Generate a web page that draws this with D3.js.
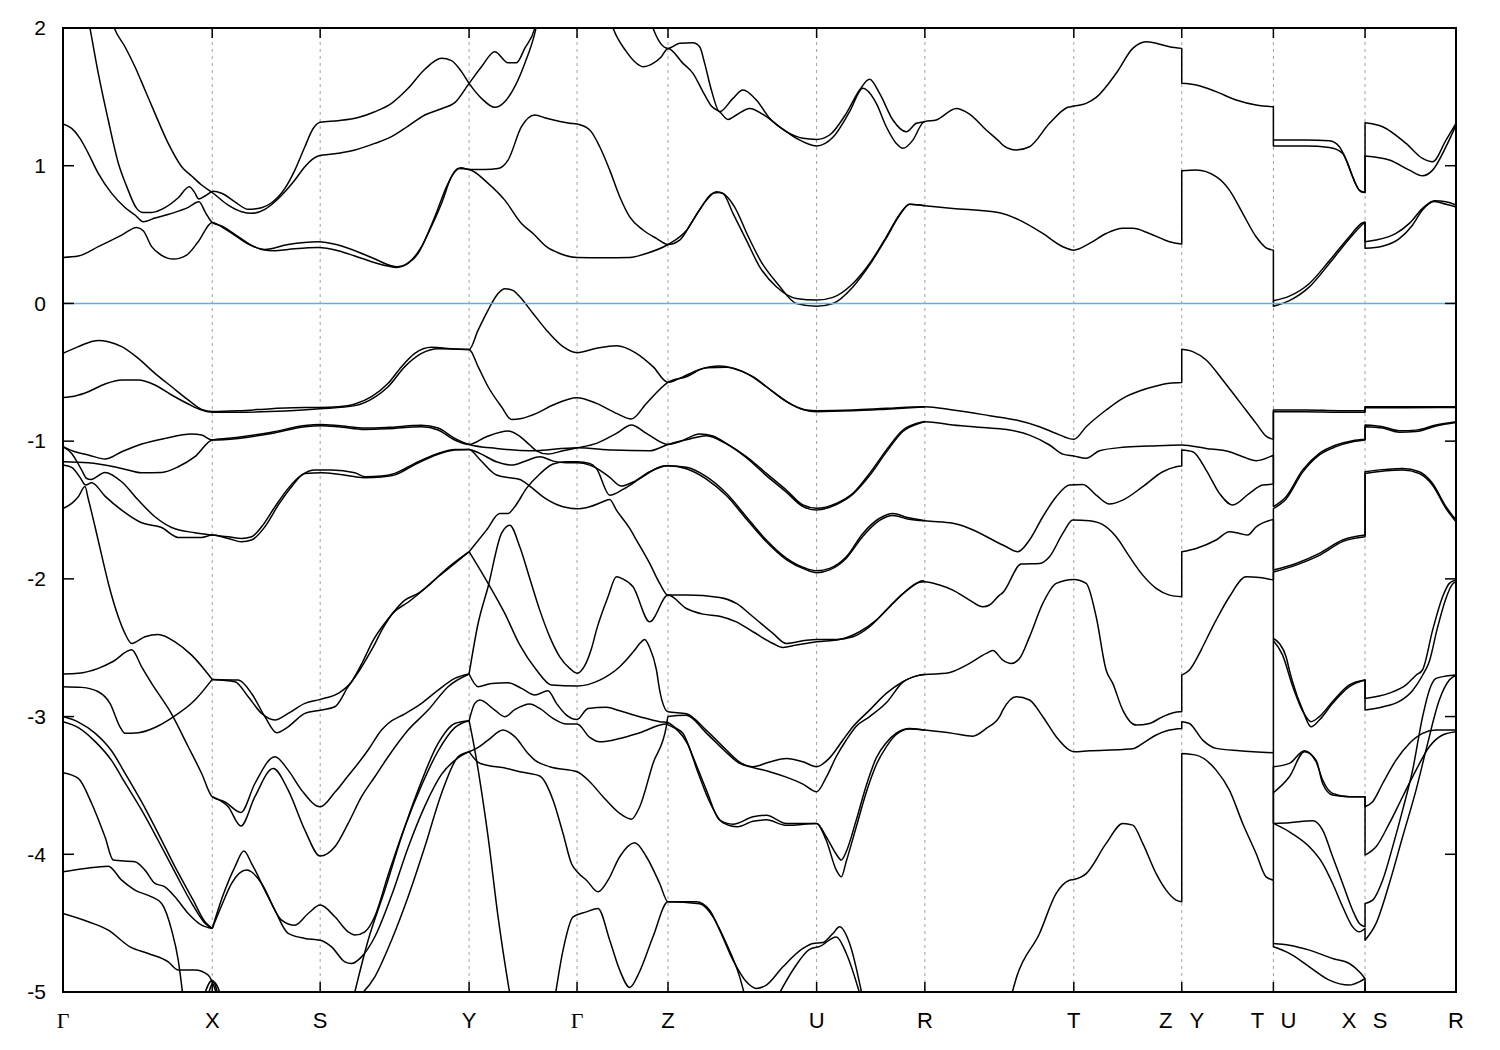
<!DOCTYPE html>
<html><head><meta charset="utf-8">
<script src="https://cdn.jsdelivr.net/npm/d3@7"></script>
<style>body{margin:0;background:#fff}</style>
</head><body><div id="chart"></div>
<script>
// ---- k-path ticks and labels ----
const kTicks = [0, 1.493, 2.573, 4.063, 5.143, 6.053, 7.54, 8.623, 10.113, 11.193, 12.11, 13.027, 13.937];
const kLabels = ["Γ","X","S","Y","Γ","Z","U","R","T","Z|Y","T|U","X|S","R"];
const eTicks = [2, 1, 0, -1, -2, -3, -4, -5];
const fermiLevel = 0;

// ---- bands: [k, E(eV)] ----
const bandP = [[0.15,2.5],[0.27,2.0],[0.353,1.67],[0.453,1.33],[0.553,1.02],[0.637,0.85],[0.737,0.69],[0.803,0.66],[0.887,0.66],[1.02,0.695],[1.153,0.767],[1.263,0.847],[1.313,0.81],[1.36,0.758],[1.42,0.78],[1.503,0.814],[1.587,0.80],[1.72,0.738],[1.853,0.683],[1.987,0.695],[2.087,0.731],[2.22,0.835],[2.32,0.968],[2.42,1.138],[2.503,1.27],[2.573,1.315],[2.753,1.327],[2.953,1.35],[3.12,1.392],[3.287,1.453],[3.453,1.562],[3.62,1.70],[3.787,1.78],[3.887,1.763],[3.987,1.683],[4.063,1.598],[4.187,1.489],[4.32,1.424],[4.42,1.465],[4.52,1.574],[4.62,1.743],[4.72,1.961],[4.8,2.25]];
const bandQ = [[0.4,2.3],[0.513,2.0],[0.62,1.864],[0.72,1.719],[0.82,1.55],[0.92,1.38],[1.053,1.162],[1.187,0.993],[1.287,0.925],[1.387,0.86],[1.503,0.80],[1.653,0.714],[1.787,0.666],[1.887,0.654],[2.02,0.683],[2.12,0.738],[2.22,0.811],[2.32,0.896],[2.42,0.993],[2.553,1.07],[2.753,1.09],[2.92,1.114],[3.12,1.162],[3.287,1.211],[3.453,1.288],[3.62,1.368],[3.787,1.414],[3.92,1.458],[4.063,1.598],[4.187,1.719],[4.32,1.828],[4.453,1.748],[4.537,1.748],[4.62,1.852],[4.72,1.997],[4.78,2.2]];
const bandR = [[0,1.303],[0.087,1.271],[0.17,1.199],[0.253,1.09],[0.353,0.944],[0.487,0.799],[0.62,0.697],[0.72,0.642],[0.803,0.593],[0.92,0.62],[1.087,0.654],[1.253,0.697],[1.36,0.738],[1.427,0.658],[1.493,0.588],[1.587,0.562],[1.72,0.501],[1.853,0.436],[1.987,0.392],[2.12,0.383],[2.253,0.392],[2.553,0.407],[2.753,0.383],[2.92,0.344],[3.087,0.303],[3.253,0.271],[3.337,0.261],[3.453,0.29],[3.553,0.363],[3.653,0.508],[3.787,0.726],[3.887,0.92],[3.987,0.985],[4.063,0.973],[4.22,0.973],[4.353,0.98],[4.453,1.041],[4.587,1.283],[4.72,1.368],[4.837,1.344],[5.07,1.308],[5.143,1.303],[5.27,1.259],[5.37,1.138],[5.47,0.968],[5.57,0.775],[5.67,0.629],[5.803,0.533],[5.937,0.472],[6.053,0.428],[6.17,0.46],[6.303,0.605],[6.437,0.75],[6.537,0.811],[6.603,0.799],[6.703,0.654],[6.837,0.46],[6.97,0.266],[7.137,0.121],[7.337,0.036],[7.54,0.024],[7.703,0.044],[7.903,0.145],[8.07,0.29],[8.237,0.484],[8.37,0.646],[8.47,0.721],[8.623,0.709],[8.903,0.69],[9.37,0.658],[9.57,0.605],[9.803,0.508],[10.003,0.412],[10.113,0.387],[10.27,0.436],[10.437,0.508],[10.603,0.545],[10.703,0.545],[10.87,0.508],[11.07,0.448],[11.193,0.431],[11.193,0.964],[11.337,0.968],[11.537,0.92],[11.67,0.823],[11.803,0.654],[11.937,0.484],[12.037,0.404],[12.11,0.387],[12.11,0.02],[12.27,0.053],[12.47,0.145],[12.67,0.31],[12.87,0.484],[13.003,0.586],[13.027,0.59],[13.027,0.448],[13.137,0.46],[13.337,0.508],[13.47,0.581],[13.603,0.69],[13.72,0.746],[13.837,0.738],[13.937,0.714]];
const bandS1 = [[0,0.334],[0.153,0.344],[0.353,0.412],[0.587,0.496],[0.737,0.552],[0.803,0.528],[0.887,0.412],[0.987,0.349],[1.103,0.322],[1.237,0.351],[1.353,0.448],[1.493,0.588],[1.587,0.557],[1.72,0.494],[1.853,0.431],[2.02,0.392],[2.253,0.428],[2.553,0.448],[2.753,0.424],[3.087,0.334],[3.337,0.266],[3.453,0.295],[3.587,0.412],[3.72,0.629],[3.853,0.872],[3.953,0.98],[4.063,0.973],[4.253,0.872],[4.42,0.75],[4.587,0.581],[4.703,0.508],[4.837,0.412],[4.97,0.363],[5.143,0.334],[5.403,0.332],[5.67,0.334],[5.837,0.363],[6.053,0.428],[6.237,0.53],[6.37,0.68],[6.503,0.80],[6.57,0.805],[6.72,0.70],[6.853,0.49],[6.987,0.30],[7.153,0.14],[7.337,0.0],[7.54,-0.02],[7.703,0.0],[7.903,0.12],[8.07,0.28],[8.237,0.475],[8.37,0.64],[8.47,0.72],[8.623,0.709]];
const bandS2 = [[12.11,0.02],[12.11,-0.02],[12.27,0.02],[12.47,0.12],[12.67,0.29],[12.87,0.47],[13.003,0.575],[13.027,0.59],[13.027,0.40],[13.2,0.415],[13.37,0.47],[13.503,0.57],[13.603,0.68],[13.72,0.74],[13.837,0.72],[13.937,0.70]];
const bandT1 = [[5.42,2.2],[5.503,2.0],[5.637,1.828],[5.72,1.755],[5.803,1.719],[5.903,1.743],[5.987,1.792],[6.053,1.852],[6.203,1.743],[6.303,1.671],[6.403,1.537],[6.487,1.433],[6.57,1.392],[6.653,1.336],[6.737,1.368],[6.87,1.416],[7.003,1.373],[7.17,1.283],[7.337,1.199],[7.54,1.143],[7.703,1.206],[7.87,1.392],[8.003,1.562],[8.137,1.453],[8.237,1.283],[8.337,1.162],[8.403,1.126],[8.503,1.186],[8.603,1.312],[8.623,1.32],[8.737,1.332],[8.937,1.416],[9.07,1.375],[9.237,1.259],[9.37,1.174],[9.403,1.15],[9.537,1.114],[9.67,1.138],[9.87,1.308],[10.053,1.424],[10.113,1.433],[10.237,1.453],[10.337,1.496],[10.537,1.671],[10.703,1.852],[10.837,1.901],[10.937,1.889],[11.07,1.864],[11.193,1.852],[11.193,1.598],[11.337,1.586],[11.537,1.538],[11.737,1.477],[11.937,1.441],[12.11,1.428],[12.11,1.186],[12.437,1.186],[12.67,1.181],[12.77,1.138],[12.853,1.017],[12.937,0.86],[12.987,0.811],[13.027,0.806],[13.027,1.312],[13.203,1.283],[13.437,1.162],[13.603,1.053],[13.703,1.029],[13.837,1.186],[13.937,1.308]];
const bandT2 = [[5.85,2.15],[5.903,2.0],[6.053,1.852],[6.17,1.889],[6.303,1.893],[6.37,1.864],[6.42,1.743],[6.487,1.55],[6.57,1.392],[6.703,1.489],[6.803,1.55],[6.937,1.477],[7.07,1.344],[7.237,1.247],[7.403,1.199],[7.54,1.191],[7.67,1.223],[7.837,1.38],[7.97,1.55],[8.07,1.627],[8.17,1.525],[8.303,1.332],[8.437,1.247],[8.537,1.308],[8.623,1.32]];
const bandT3 = [[12.11,1.186],[12.11,1.143],[12.437,1.143],[12.67,1.133],[12.803,1.09],[12.903,0.92],[12.97,0.823],[13.027,0.806],[13.027,1.07],[13.27,1.041],[13.47,0.968],[13.603,0.927],[13.703,0.968],[13.837,1.138],[13.937,1.295]];
const bandV1 = [[0,-0.363],[0.153,-0.314],[0.253,-0.285],[0.353,-0.27],[0.453,-0.278],[0.587,-0.314],[0.753,-0.399],[0.92,-0.508],[1.087,-0.605],[1.253,-0.701],[1.387,-0.769],[1.493,-0.784],[1.753,-0.779],[2.087,-0.764],[2.42,-0.755],[2.573,-0.755],[2.753,-0.75],[2.92,-0.73],[3.087,-0.677],[3.253,-0.58],[3.387,-0.459],[3.52,-0.363],[3.687,-0.319],[3.92,-0.331],[4.063,-0.334],[4.153,-0.194],[4.253,-0.048],[4.353,0.072],[4.42,0.107],[4.5,0.095],[4.57,0.048],[4.703,-0.073],[4.837,-0.194],[5.003,-0.314],[5.143,-0.358],[5.337,-0.326],[5.537,-0.307],[5.737,-0.362],[5.903,-0.459],[6.053,-0.573],[6.17,-0.544],[6.37,-0.479],[6.57,-0.454],[6.703,-0.471],[6.903,-0.532],[7.103,-0.641],[7.303,-0.738],[7.437,-0.774],[7.54,-0.779],[7.903,-0.774],[8.237,-0.762],[8.623,-0.75],[8.903,-0.774],[9.27,-0.815],[9.537,-0.847],[9.77,-0.895],[9.937,-0.944],[10.113,-0.987],[10.237,-0.895],[10.437,-0.774],[10.603,-0.689],[10.77,-0.636],[10.937,-0.6],[11.07,-0.58],[11.193,-0.575],[11.193,-0.333],[11.303,-0.35],[11.437,-0.411],[11.603,-0.556],[11.77,-0.713],[11.937,-0.871],[12.037,-0.963],[12.11,-0.987],[12.11,-0.774],[12.437,-0.774],[12.77,-0.779],[13.027,-0.779],[13.027,-0.755],[13.437,-0.757],[13.937,-0.755]];
const bandV2 = [[0,-0.684],[0.12,-0.672],[0.253,-0.641],[0.42,-0.585],[0.587,-0.556],[0.753,-0.556],[0.92,-0.592],[1.087,-0.665],[1.253,-0.73],[1.387,-0.774],[1.493,-0.79],[1.753,-0.79],[2.573,-0.765],[2.92,-0.742],[3.12,-0.68],[3.253,-0.605],[3.42,-0.459],[3.587,-0.363],[3.753,-0.329],[4.063,-0.334],[4.153,-0.459],[4.253,-0.605],[4.387,-0.75],[4.487,-0.842],[4.587,-0.835],[4.737,-0.798],[4.903,-0.738],[5.143,-0.684],[5.337,-0.726],[5.537,-0.798],[5.687,-0.839],[5.837,-0.726],[6.053,-0.573],[6.237,-0.532],[6.437,-0.467],[6.637,-0.464],[6.837,-0.508],[7.037,-0.605],[7.237,-0.713],[7.403,-0.77],[7.54,-0.786],[7.903,-0.78],[8.237,-0.768],[8.623,-0.752]];
const bandW1 = [[0,-1.04],[0.12,-1.077],[0.253,-1.10],[0.42,-1.13],[0.587,-1.077],[0.787,-1.021],[1.02,-0.98],[1.287,-0.949],[1.387,-0.956],[1.493,-0.992],[1.753,-0.98],[2.087,-0.944],[2.42,-0.895],[2.587,-0.888],[2.753,-0.895],[3.02,-0.915],[3.253,-0.91],[3.587,-0.895],[3.753,-0.919],[3.92,-0.992],[4.063,-1.024],[4.237,-0.968],[4.453,-0.927],[4.553,-0.956],[4.67,-1.028],[4.737,-1.07],[4.853,-1.094],[5.003,-1.07],[5.147,-1.048],[5.337,-1.016],[5.537,-0.944],[5.687,-0.883],[5.837,-0.944],[6.053,-1.024],[6.17,-1.004],[6.37,-0.948],[6.503,-0.963],[6.637,-1.016],[6.837,-1.113],[7.037,-1.234],[7.237,-1.355],[7.403,-1.464],[7.54,-1.488],[7.737,-1.452],[7.903,-1.379],[8.07,-1.234],[8.237,-1.065],[8.403,-0.919],[8.537,-0.871],[8.623,-0.859],[8.903,-0.883],[9.27,-0.905],[9.47,-0.919],[9.67,-0.956],[9.87,-1.028],[10.003,-1.094],[10.113,-1.108],[10.237,-1.125],[10.37,-1.07],[10.603,-1.045],[10.87,-1.036],[11.193,-1.028],[11.437,-1.053],[11.67,-1.077],[11.803,-1.113],[11.937,-1.142],[12.11,-1.101],[12.11,-1.476],[12.237,-1.404],[12.403,-1.21],[12.57,-1.089],[12.737,-1.028],[12.903,-0.997],[13.027,-0.987],[13.027,-0.883],[13.203,-0.895],[13.37,-0.924],[13.537,-0.92],[13.737,-0.883],[13.937,-0.859]];
const bandW2 = [[0,-1.15],[0.253,-1.157],[0.587,-1.198],[0.787,-1.23],[0.987,-1.227],[1.153,-1.186],[1.32,-1.113],[1.493,-0.992],[1.753,-0.972],[2.087,-0.935],[2.42,-0.887],[2.573,-0.88],[2.753,-0.887],[3.02,-0.905],[3.253,-0.9],[3.587,-0.885],[3.753,-0.905],[3.92,-0.98],[4.063,-1.024],[4.337,-1.053],[4.67,-1.07],[5.147,-1.048],[5.503,-1.065],[5.87,-1.07],[6.053,-1.024],[6.237,-0.99],[6.437,-0.96],[6.637,-1.02],[6.837,-1.12],[7.037,-1.25],[7.237,-1.37],[7.403,-1.475],[7.54,-1.5],[7.737,-1.46],[7.903,-1.385],[8.07,-1.25],[8.237,-1.08],[8.403,-0.93],[8.57,-0.87],[8.623,-0.859]];
const bandD1 = [[0,-1.04],[0.087,-1.089],[0.187,-1.21],[0.237,-1.271],[0.28,-1.278],[0.42,-1.227],[0.587,-1.295],[0.753,-1.428],[0.92,-1.549],[1.087,-1.627],[1.32,-1.665],[1.493,-1.682],[1.653,-1.694],[1.787,-1.707],[1.887,-1.694],[1.987,-1.622],[2.12,-1.477],[2.253,-1.343],[2.387,-1.247],[2.52,-1.21],[2.687,-1.21],[2.92,-1.23],[3.02,-1.258],[3.187,-1.254],[3.32,-1.234],[3.52,-1.161],[3.753,-1.089],[3.92,-1.06],[4.063,-1.06],[4.17,-1.089],[4.337,-1.15],[4.487,-1.174],[4.637,-1.142],[4.77,-1.113],[4.903,-1.145],[5.037,-1.157],[5.147,-1.157],[5.27,-1.174],[5.37,-1.21],[5.47,-1.263],[5.587,-1.326],[5.703,-1.297],[5.87,-1.222],[6.053,-1.179],[6.237,-1.19],[6.437,-1.258],[6.637,-1.379],[6.837,-1.549],[7.037,-1.718],[7.237,-1.85],[7.437,-1.925],[7.54,-1.941],[7.67,-1.924],[7.837,-1.84],[8.003,-1.67],[8.17,-1.56],[8.303,-1.525],[8.45,-1.555],[8.623,-1.578],[8.903,-1.597],[9.07,-1.634],[9.37,-1.743],[9.437,-1.767],[9.553,-1.803],[9.67,-1.718],[9.803,-1.549],[9.937,-1.404],[10.07,-1.319],[10.203,-1.314],[10.337,-1.392],[10.47,-1.457],[10.603,-1.428],[10.803,-1.331],[11.003,-1.222],[11.137,-1.186],[11.193,-1.181],[11.193,-1.065],[11.303,-1.077],[11.437,-1.21],[11.57,-1.379],[11.703,-1.464],[11.87,-1.379],[12.003,-1.319],[12.11,-1.312],[12.11,-0.786],[12.437,-0.786],[12.77,-0.79],[13.027,-0.79],[13.027,-0.75],[13.937,-0.75]];
const bandD2 = [[0,-1.174],[0.087,-1.191],[0.17,-1.263],[0.227,-1.319],[0.287,-1.302],[0.42,-1.399],[0.587,-1.501],[0.787,-1.593],[0.987,-1.627],[1.153,-1.699],[1.387,-1.699],[1.493,-1.682],[1.653,-1.707],[1.787,-1.731],[1.887,-1.718],[2.02,-1.622],[2.153,-1.465],[2.287,-1.331],[2.42,-1.235],[2.587,-1.23],[2.753,-1.24],[3.02,-1.265],[3.187,-1.26],[3.32,-1.245],[3.52,-1.17],[3.753,-1.095],[3.92,-1.065],[4.063,-1.06],[4.17,-1.133],[4.337,-1.246],[4.47,-1.266],[4.57,-1.278],[4.67,-1.326],[4.803,-1.404],[5.003,-1.476],[5.147,-1.491],[5.27,-1.476],[5.403,-1.44],[5.47,-1.423],[5.537,-1.501],[5.67,-1.634],[5.737,-1.718],[5.87,-1.888],[5.97,-2.033],[6.053,-2.118],[6.237,-2.118],[6.57,-2.135],[6.737,-2.178],[6.903,-2.275],[7.103,-2.396],[7.237,-2.469],[7.437,-2.445],[7.54,-2.44],[7.737,-2.44],[7.903,-2.421],[8.07,-2.348],[8.237,-2.227],[8.403,-2.106],[8.57,-2.025],[8.623,-2.021],[8.77,-2.045],[8.903,-2.082],[9.07,-2.154],[9.203,-2.203],[9.27,-2.19],[9.37,-2.118],[9.403,-2.1],[9.587,-1.893],[9.77,-1.888],[9.87,-1.839],[10.003,-1.67],[10.103,-1.573],[10.27,-1.578],[10.437,-1.622],[10.537,-1.694],[10.67,-1.839],[10.803,-1.973],[10.937,-2.069],[11.07,-2.118],[11.193,-2.13],[11.193,-1.803],[11.337,-1.779],[11.537,-1.718],[11.67,-1.658],[11.77,-1.67],[11.853,-1.682],[11.937,-1.622],[12.11,-1.568],[12.11,-1.936],[12.337,-1.888],[12.57,-1.815],[12.803,-1.718],[13.027,-1.682],[13.027,-1.222],[13.237,-1.205],[13.403,-1.198],[13.57,-1.222],[13.703,-1.307],[13.837,-1.476],[13.937,-1.573]];
const bandK = [[4.063,-1.803],[4.237,-1.646],[4.37,-1.525],[4.453,-1.525],[4.52,-1.476],[4.637,-1.343],[4.77,-1.239],[4.903,-1.166],[5.037,-1.15],[5.147,-1.15],[5.27,-1.162],[5.337,-1.198],[5.47,-1.392],[5.603,-1.35],[5.803,-1.258],[6.003,-1.181],[6.053,-1.179],[6.237,-1.2],[6.437,-1.275],[6.637,-1.395],[6.837,-1.565],[7.037,-1.73],[7.237,-1.86],[7.437,-1.935],[7.54,-1.955],[7.67,-1.935],[7.837,-1.85],[8.003,-1.69],[8.17,-1.575],[8.303,-1.54],[8.45,-1.565],[8.623,-1.578]];
const bandU1 = [[4.063,-2.69],[4.153,-2.324],[4.253,-2.057],[4.387,-1.67],[4.47,-1.61],[4.57,-1.767],[4.67,-1.997],[4.77,-2.227],[4.87,-2.421],[4.97,-2.566],[5.07,-2.65],[5.143,-2.685],[5.22,-2.63],[5.29,-2.5],[5.337,-2.372],[5.453,-2.13],[5.537,-1.985],[5.6,-2.0],[5.703,-2.057],[5.87,-2.312],[6.053,-2.118],[6.237,-2.215],[6.403,-2.256],[6.57,-2.271],[6.737,-2.312],[6.903,-2.384],[7.103,-2.469],[7.203,-2.498],[7.337,-2.481],[7.54,-2.457],[7.77,-2.44],[7.97,-2.384],[8.137,-2.3],[8.303,-2.178],[8.47,-2.069],[8.603,-2.014],[8.623,-2.021]];
const bandX2 = [[0,-1.489],[0.087,-1.452],[0.153,-1.404],[0.22,-1.33],[0.253,-1.42],[0.32,-1.62],[0.4,-1.87],[0.453,-2.03],[0.553,-2.275],[0.62,-2.396],[0.687,-2.469],[0.82,-2.42],[0.953,-2.404],[1.12,-2.457],[1.287,-2.554],[1.42,-2.663],[1.493,-2.73]];
const bandX1 = [[0,-2.691],[0.153,-2.686],[0.353,-2.65],[0.5,-2.6],[0.687,-2.515],[0.787,-2.639],[0.887,-2.759],[1.087,-2.982],[1.253,-3.219],[1.387,-3.413],[1.493,-3.582],[1.62,-3.619],[1.78,-3.696],[1.92,-3.486],[2.12,-3.292],[2.253,-3.389],[2.387,-3.534],[2.573,-3.655],[2.72,-3.55],[2.853,-3.43],[2.92,-3.37],[3.053,-3.243],[3.187,-3.098],[3.253,-3.05],[3.42,-2.98],[3.587,-2.904],[3.753,-2.808],[3.92,-2.723],[4.063,-2.691]];
const bandX3 = [[1.493,-3.582],[1.653,-3.655],[1.78,-3.795],[1.92,-3.582],[2.103,-3.377],[2.253,-3.534],[2.42,-3.824],[2.573,-4.013],[2.72,-3.946],[2.853,-3.776],[2.987,-3.582],[3.12,-3.437],[3.253,-3.292],[3.453,-3.098],[3.653,-2.953],[3.853,-2.783],[4.063,-2.691]];
const bandM3 = [[0,-2.783],[0.187,-2.788],[0.353,-2.82],[0.47,-2.904],[0.57,-3.074],[0.62,-3.122],[0.753,-3.117],[0.92,-3.079],[1.07,-3.018],[1.32,-2.88],[1.493,-2.73]];
const bandG1 = [[1.493,-2.73],[1.72,-2.747],[1.853,-2.856],[1.987,-2.977],[2.12,-3.025],[2.253,-2.977],[2.42,-2.904],[2.573,-2.875],[2.753,-2.832],[2.887,-2.747],[3.0,-2.6],[3.1,-2.45],[3.253,-2.29],[3.42,-2.154],[3.553,-2.106],[3.753,-1.985],[3.92,-1.888],[4.063,-1.803]];
const bandG2 = [[1.493,-2.73],[1.753,-2.735],[1.887,-2.832],[2.02,-3.001],[2.137,-3.117],[2.253,-3.074],[2.42,-2.977],[2.587,-2.953],[2.72,-2.929],[2.853,-2.783],[2.97,-2.66],[3.1,-2.5],[3.2,-2.36],[3.3,-2.25],[3.453,-2.17],[3.653,-2.05],[3.85,-1.92],[4.063,-1.803]];
const bandF1 = [[0,-3.0],[0.153,-3.04],[0.32,-3.12],[0.487,-3.25],[0.62,-3.41],[0.787,-3.62],[0.953,-3.85],[1.12,-4.09],[1.3,-4.33],[1.42,-4.49],[1.493,-4.539]];
const bandF2 = [[0,-3.037],[0.153,-3.08],[0.32,-3.18],[0.487,-3.32],[0.62,-3.48],[0.787,-3.68],[0.953,-3.9],[1.12,-4.13],[1.3,-4.37],[1.42,-4.5],[1.493,-4.539]];
const bandF3 = [[0,-3.408],[0.153,-3.449],[0.287,-3.631],[0.42,-3.873],[0.503,-4.042],[0.72,-4.055],[0.82,-4.115],[0.92,-4.212],[1.02,-4.236],[1.12,-4.309],[1.253,-4.43],[1.387,-4.515],[1.493,-4.539]];
const bandF4 = [[0,-4.127],[0.22,-4.103],[0.453,-4.086],[0.587,-4.188],[0.72,-4.26],[0.887,-4.309],[0.987,-4.357],[1.087,-4.551],[1.153,-4.769],[1.203,-5.05]];
const bandF5 = [[0,-4.43],[0.253,-4.49],[0.453,-4.551],[0.67,-4.672],[0.853,-4.72],[1.053,-4.781],[1.153,-4.841],[1.32,-4.841],[1.453,-4.878],[1.553,-5.05]];
const bandXs1 = [[1.40,-5.05],[1.493,-4.914],[1.56,-5.05]];
const bandXs2 = [[1.44,-5.05],[1.51,-4.93],[1.59,-5.05]];
const bandY1 = [[1.493,-4.539],[1.6,-4.3],[1.72,-4.091],[1.81,-3.977],[1.887,-4.067],[2.053,-4.309],[2.187,-4.478],[2.32,-4.515],[2.453,-4.43],[2.573,-4.369],[2.72,-4.454],[2.853,-4.563],[2.92,-4.587],[3.02,-4.563],[3.12,-4.45],[3.253,-4.15],[3.42,-3.8],[3.587,-3.5],[3.753,-3.25],[3.92,-3.08],[4.063,-3.03]];
const bandY2 = [[1.493,-4.539],[1.6,-4.35],[1.687,-4.212],[1.837,-4.115],[1.987,-4.212],[2.12,-4.406],[2.253,-4.575],[2.42,-4.611],[2.573,-4.624],[2.687,-4.672],[2.82,-4.781],[2.887,-4.793],[2.987,-4.745],[3.12,-4.599],[3.287,-4.3],[3.453,-3.95],[3.62,-3.65],[3.787,-3.42],[3.953,-3.3],[4.063,-3.255]];
const bandY3 = [[2.937,-5.05],[3.12,-4.89],[3.287,-4.624],[3.453,-4.309],[3.62,-3.946],[3.787,-3.558],[3.953,-3.292],[4.063,-3.255]];
const bandY4 = [[2.903,-5.05],[3.053,-4.624],[3.22,-4.26],[3.387,-3.873],[3.553,-3.534],[3.753,-3.195],[3.92,-3.05],[4.063,-3.03]];
const bandZa = [[4.063,-2.691],[4.153,-2.783],[4.287,-2.759],[4.453,-2.754],[4.587,-2.795],[4.72,-2.844],[4.853,-2.812],[4.937,-2.904],[5.037,-2.989],[5.143,-3.021],[5.253,-2.941],[5.437,-2.933],[5.57,-2.958],[5.77,-3.001],[5.97,-3.037],[6.053,-3.045],[6.137,-3.086],[6.203,-3.122],[6.303,-3.292],[6.437,-3.534],[6.57,-3.752],[6.703,-3.781],[6.903,-3.728],[7.037,-3.716],[7.237,-3.776],[7.54,-3.776],[7.637,-3.873],[7.737,-4.0],[7.787,-4.042],[7.837,-3.98],[7.937,-3.75],[8.037,-3.5],[8.137,-3.3],[8.237,-3.19],[8.337,-3.12],[8.47,-3.086],[8.623,-3.098],[8.903,-3.122],[9.103,-3.142],[9.237,-3.086],[9.37,-3.001],[9.403,-2.953],[9.537,-2.856],[9.67,-2.88],[9.803,-3.001],[9.937,-3.146],[10.07,-3.243],[10.113,-3.255],[10.27,-3.248],[10.603,-3.239],[10.703,-3.234],[10.803,-3.195],[10.937,-3.134],[11.07,-3.098],[11.193,-3.086],[11.193,-3.037],[11.27,-3.05],[11.403,-3.171],[11.537,-3.231],[11.77,-3.248],[12.11,-3.263],[12.11,-1.95],[12.337,-1.9],[12.57,-1.83],[12.803,-1.73],[13.027,-1.695],[13.027,-1.235],[13.237,-1.215],[13.403,-1.21],[13.57,-1.235],[13.703,-1.32],[13.837,-1.49],[13.937,-1.585]];
const bandZb = [[4.063,-3.03],[4.12,-2.904],[4.17,-2.88],[4.32,-2.953],[4.42,-3.001],[4.52,-2.95],[4.67,-2.909],[4.77,-2.941],[4.903,-3.013],[5.037,-3.054],[5.143,-3.054],[5.27,-3.151],[5.37,-3.183],[5.57,-3.159],[5.77,-3.118],[6.037,-3.054],[6.053,-3.06],[6.15,-3.1],[6.25,-3.2],[6.35,-3.4],[6.47,-3.62],[6.6,-3.77],[6.75,-3.8],[6.903,-3.76],[7.037,-3.75],[7.237,-3.79],[7.54,-3.776],[7.637,-3.9],[7.737,-4.115],[7.787,-4.164],[7.837,-4.05],[7.937,-3.8],[8.037,-3.55],[8.137,-3.35],[8.237,-3.22],[8.337,-3.13],[8.47,-3.09],[8.623,-3.098]];
const bandZc = [[4.063,-3.255],[4.137,-3.231],[4.253,-3.171],[4.403,-3.098],[4.52,-3.146],[4.653,-3.268],[4.72,-3.316],[4.87,-3.364],[5.143,-3.401],[5.27,-3.473],[5.403,-3.582],[5.57,-3.703],[5.687,-3.745],[5.77,-3.655],[5.903,-3.34],[6.037,-3.069],[6.053,-3.0],[6.237,-2.99],[6.437,-3.12],[6.637,-3.26],[6.77,-3.34],[6.903,-3.37],[7.07,-3.40],[7.237,-3.44],[7.403,-3.49],[7.54,-3.546],[7.637,-3.44],[7.737,-3.29],[7.837,-3.17],[7.937,-3.07],[8.07,-3.0],[8.237,-2.9],[8.403,-2.75],[8.57,-2.7],[8.623,-2.694],[8.837,-2.686],[9.07,-2.614],[9.237,-2.541],[9.303,-2.52],[9.403,-2.59],[9.487,-2.614],[9.57,-2.578],[9.67,-2.421],[9.803,-2.178],[9.937,-2.033],[10.113,-2.004],[10.237,-2.033],[10.337,-2.275],[10.437,-2.663],[10.503,-2.759],[10.603,-2.953],[10.737,-3.062],[10.87,-3.05],[11.003,-3.001],[11.17,-2.965],[11.193,-2.965],[11.193,-2.699],[11.27,-2.662],[11.37,-2.541],[11.403,-2.493],[11.537,-2.3],[11.67,-2.13],[11.837,-1.985],[11.97,-1.99],[12.11,-2.009],[12.11,-1.49],[12.237,-1.42],[12.403,-1.225],[12.57,-1.1],[12.737,-1.04],[12.903,-1.005],[13.027,-0.992],[13.027,-0.895],[13.203,-0.905],[13.37,-0.935],[13.537,-0.93],[13.737,-0.89],[13.937,-0.865]];
const bandZd = [[4.063,-1.803],[4.253,-2.033],[4.42,-2.251],[4.57,-2.48],[4.737,-2.662],[4.887,-2.771],[5.143,-2.778],[5.37,-2.735],[5.57,-2.638],[5.72,-2.517],[5.77,-2.47],[5.82,-2.44],[5.87,-2.5],[5.937,-2.66],[5.97,-2.81],[6.053,-2.965],[6.237,-2.98],[6.437,-3.1],[6.637,-3.243],[6.77,-3.33],[6.903,-3.364],[7.07,-3.33],[7.237,-3.304],[7.403,-3.328],[7.54,-3.364],[7.67,-3.3],[7.803,-3.17],[7.903,-3.074],[8.07,-2.953],[8.237,-2.832],[8.403,-2.747],[8.57,-2.699],[8.623,-2.694]];
const bandZe = [[4.063,-3.255],[4.15,-3.33],[4.253,-3.355],[4.4,-3.37],[4.57,-3.401],[4.77,-3.432],[4.903,-3.607],[5.003,-3.849],[5.087,-4.067],[5.153,-4.134],[5.237,-4.188],[5.353,-4.272],[5.453,-4.188],[5.57,-4.018],[5.72,-3.917],[5.837,-4.018],[5.97,-4.212],[6.053,-4.345],[6.337,-4.345],[6.47,-4.406],[6.57,-4.551],[6.703,-4.769],[6.837,-4.926],[6.937,-4.974],[7.037,-4.95],[7.203,-4.817],[7.403,-4.684],[7.503,-4.648],[7.603,-4.641],[7.703,-4.575],[7.77,-4.527],[7.87,-4.648],[8.003,-5.05]];
const bandZf = [[4.92,-5.05],[5.003,-4.696],[5.103,-4.454],[5.237,-4.418],[5.353,-4.393],[5.47,-4.624],[5.57,-4.841],[5.67,-4.967],[5.77,-4.85],[5.903,-4.599],[6.053,-4.345],[6.37,-4.36],[6.503,-4.454],[6.637,-4.648],[6.77,-4.89],[6.83,-5.05]];
const bandZg = [[7.137,-5.05],[7.303,-4.84],[7.47,-4.69],[7.57,-4.67],[7.737,-4.6],[7.837,-4.72],[7.987,-5.05]];
const bandPlunge = [[4.063,-3.03],[4.12,-3.243],[4.17,-3.461],[4.253,-3.873],[4.353,-4.454],[4.453,-4.938],[4.49,-5.1]];
const bandTL = [[9.48,-5.05],[9.537,-4.9],[9.77,-4.575],[9.937,-4.284],[10.07,-4.188],[10.113,-4.183],[10.237,-4.14],[10.437,-3.921],[10.603,-3.776],[10.703,-3.788],[10.803,-3.921],[10.937,-4.14],[11.037,-4.26],[11.137,-4.333],[11.193,-4.345],[11.193,-3.268],[11.337,-3.28],[11.537,-3.389],[11.67,-3.534],[11.803,-3.776],[11.937,-3.994],[12.037,-4.164],[12.11,-4.188],[12.11,-3.364],[12.27,-3.34],[12.42,-3.248],[12.537,-3.328],[12.603,-3.461],[12.703,-3.558],[12.87,-3.582],[13.027,-3.582],[13.027,-3.655],[13.103,-3.619],[13.203,-3.486],[13.337,-3.316],[13.47,-3.195],[13.603,-3.122],[13.737,-3.098],[13.937,-3.098]];
const bandUA = [[12.11,-3.263],[12.11,-3.553],[12.27,-3.437],[12.42,-3.255],[12.537,-3.316],[12.603,-3.486],[12.703,-3.57],[12.87,-3.582],[13.027,-3.582],[13.027,-4.006],[13.137,-3.946],[13.27,-3.776],[13.403,-3.582],[13.537,-3.389],[13.67,-3.219],[13.803,-3.134],[13.937,-3.11]];
const bandUB = [[12.11,-3.553],[12.11,-3.776],[12.27,-3.771],[12.503,-3.757],[12.603,-3.824],[12.703,-4.018],[12.803,-4.212],[12.903,-4.406],[12.97,-4.502],[13.027,-4.527],[13.027,-4.357],[13.103,-4.333],[13.203,-4.188],[13.303,-3.946],[13.403,-3.679],[13.503,-3.389],[13.603,-3.0],[13.67,-2.808],[13.737,-2.723],[13.837,-2.706],[13.937,-2.699]];
const bandUC = [[12.11,-3.776],[12.27,-3.837],[12.47,-3.946],[12.603,-4.067],[12.703,-4.212],[12.803,-4.381],[12.903,-4.527],[12.97,-4.563],[13.027,-4.539],[13.027,-4.624],[13.137,-4.502],[13.27,-4.212],[13.403,-3.873],[13.537,-3.534],[13.637,-3.243],[13.77,-2.88],[13.87,-2.735],[13.937,-2.699]];
const bandUD = [[12.11,-4.188],[12.11,-4.648],[12.27,-4.66],[12.47,-4.696],[12.703,-4.757],[12.87,-4.793],[12.97,-4.853],[13.027,-4.902],[13.027,-5.1]];
const bandUE = [[12.11,-4.648],[12.11,-4.672],[12.27,-4.72],[12.47,-4.817],[12.67,-4.914],[12.87,-4.95],[12.97,-4.926],[13.027,-4.902]];
const bandUF = [[12.11,-2.433],[12.17,-2.469],[12.237,-2.566],[12.27,-2.663],[12.303,-2.75],[12.403,-2.953],[12.487,-3.074],[12.57,-3.025],[12.703,-2.904],[12.87,-2.783],[13.027,-2.735],[13.027,-2.868],[13.27,-2.83],[13.437,-2.77],[13.537,-2.7],[13.603,-2.66],[13.703,-2.372],[13.803,-2.13],[13.87,-2.033],[13.937,-2.009]];
const bandUG = [[12.11,-2.45],[12.2,-2.55],[12.303,-2.78],[12.403,-2.96],[12.487,-3.037],[12.57,-3.0],[12.703,-2.89],[12.87,-2.77],[13.027,-2.735],[13.027,-2.953],[13.2,-2.93],[13.37,-2.89],[13.503,-2.81],[13.603,-2.7],[13.67,-2.6],[13.75,-2.36],[13.837,-2.14],[13.9,-2.04],[13.937,-2.02]];

const bands = [bandP,bandQ,bandR,bandS1,bandS2,bandT1,bandT2,bandT3,bandV1,bandV2,bandW1,bandW2,bandD1,bandD2,bandK,bandU1,
  bandX2,bandX1,bandX3,bandM3,bandG1,bandG2,bandF1,bandF2,bandF3,bandF4,bandF5,bandXs1,bandXs2,bandY1,bandY2,bandY3,bandY4,
  bandZa,bandZb,bandZc,bandZd,bandZe,bandZf,bandZg,bandPlunge,bandTL,bandUA,bandUB,bandUC,bandUD,bandUE,bandUF,bandUG];

// ---- layout ----
const W = 1500, H = 1050;
const pL = 63, pR = 1456, pT = 28, pB = 992;
const x = d3.scaleLinear().domain([kTicks[0], kTicks[kTicks.length-1]]).range([pL, pR]);
const y = d3.scaleLinear().domain([-5, 2]).range([pB, pT]);

const svg = d3.select('#chart').append('svg').attr('width', W).attr('height', H)
  .style('font-family', '"Liberation Sans", Arial, sans-serif');
svg.append('rect').attr('width', W).attr('height', H).attr('fill', '#fff');
svg.append('defs').append('clipPath').attr('id', 'clip')
  .append('rect').attr('x', pL).attr('y', pT).attr('width', pR-pL).attr('height', pB-pT);

// grid lines at internal k-points
svg.append('g').selectAll('line').data(kTicks.slice(1, -1)).join('line')
  .attr('x1', d => x(d)).attr('x2', d => x(d)).attr('y1', pT).attr('y2', pB)
  .attr('stroke', '#a0a0a0').attr('stroke-width', 1).attr('stroke-dasharray', '3,4');

// bands
const lineGen = d3.line().x(d => x(d[0])).y(d => y(d[1])).curve(d3.curveMonotoneX);
function bandPath(pts) {
  const runs = []; let cur = [pts[0]];
  for (let i = 1; i < pts.length; i++) {
    if (pts[i][0] <= pts[i-1][0] + 1e-9) { runs.push(cur); cur = [pts[i]]; }
    else cur.push(pts[i]);
  }
  runs.push(cur);
  return runs.map((r, i) => {
    const s = r.length > 1 ? lineGen(r) : `M${x(r[0][0])},${y(r[0][1])}`;
    return i ? 'L' + s.slice(1) : s;
  }).join('');
}
svg.append('g').attr('clip-path', 'url(#clip)').selectAll('path').data(bands).join('path')
  .attr('d', bandPath).attr('fill', 'none').attr('stroke', '#000')
  .attr('stroke-width', 1.5).attr('stroke-linejoin', 'round');

// Fermi level
svg.append('line').attr('x1', pL).attr('x2', pR).attr('y1', y(fermiLevel)).attr('y2', y(fermiLevel))
  .attr('stroke', '#56b4e9').attr('stroke-width', 1.5);

// ticks
const tk = svg.append('g').attr('stroke', '#000').attr('stroke-width', 1.5);
kTicks.slice(1, -1).forEach(k => {
  tk.append('line').attr('x1', x(k)).attr('x2', x(k)).attr('y1', pB).attr('y2', pB - 10);
  tk.append('line').attr('x1', x(k)).attr('x2', x(k)).attr('y1', pT).attr('y2', pT + 10);
});
eTicks.slice(1, -1).forEach(e => {
  tk.append('line').attr('x1', pL).attr('x2', pL + 11).attr('y1', y(e)).attr('y2', y(e));
  tk.append('line').attr('x1', pR).attr('x2', pR - 11).attr('y1', y(e)).attr('y2', y(e));
});

// frame
svg.append('rect').attr('x', pL).attr('y', pT).attr('width', pR-pL).attr('height', pB-pT)
  .attr('fill', 'none').attr('stroke', '#000').attr('stroke-width', 2);

// y labels
svg.append('g').selectAll('text').data(eTicks).join('text')
  .attr('x', pL - 17).attr('y', d => y(d)).attr('dy', '0.35em').attr('text-anchor', 'end')
  .attr('font-size', 21).attr('fill', '#000').text(d => d);

// x labels
const lab = svg.append('g');
kLabels.forEach((l, i) => {
  const parts = l.split('|');
  const offs = parts.length > 1 ? [-16, 15] : [0];
  parts.forEach((p, j) => {
    lab.append('text').attr('x', x(kTicks[i]) + offs[j]).attr('y', 1028)
      .attr('text-anchor', 'middle').attr('font-size', 22).attr('fill', '#000')
      .style('font-family', p === 'Γ' ? '"Liberation Serif", "DejaVu Serif", serif' : null)
      .text(p);
  });
});
</script>
</body></html>
